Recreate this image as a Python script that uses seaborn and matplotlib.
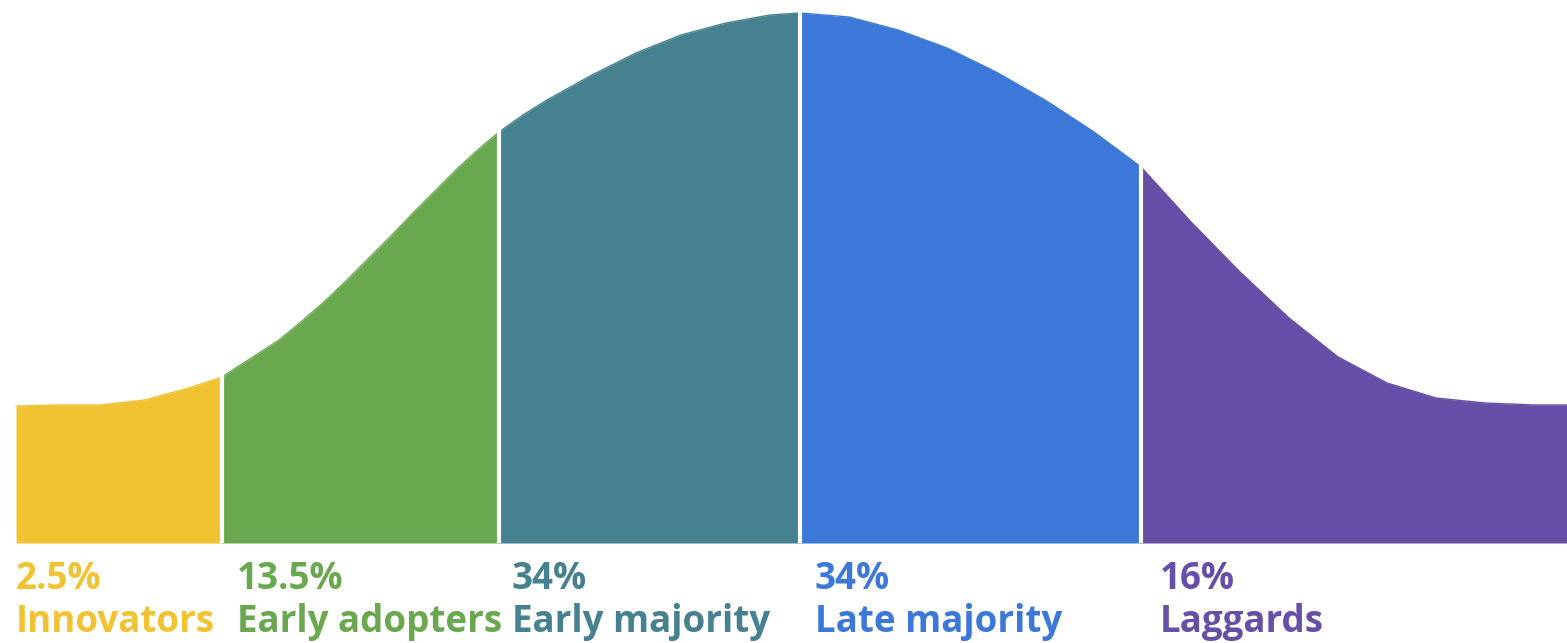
import numpy as np
import pandas as pd
import matplotlib
matplotlib.use("Agg")
import matplotlib.pyplot as plt
import seaborn as sns

# ---- data ----
categories = ["Innovators", "Early adopters", "Early majority", "Late majority", "Laggards"]
shares = ["2.5%", "13.5%", "34%", "34%", "16%"]
colors = ["#F1C232", "#6AA84F", "#45818E", "#3C78D8", "#674EA7"]
# segment boundaries along the horizontal axis
boundaries = [16, 222, 499, 800, 1141, 1567]
# curve height at positions along the axis
curve_x = [16, 60, 100, 145, 189, 222, 256, 279, 301, 324, 346, 368, 391, 413,
           435, 458, 480, 499, 523, 547, 592, 636, 681, 726, 770, 800, 849,
           898, 947, 996, 1045, 1094, 1141, 1191, 1240, 1289, 1338, 1387,
           1436, 1485, 1534, 1567]
curve_y = [137, 138, 138, 143, 155, 166, 188, 203, 221, 241, 262, 284, 307, 330,
           352, 375, 395, 411, 428, 443, 468, 490, 508, 520, 528, 530, 526,
           513, 495, 471, 443, 411, 376, 321, 271, 225, 186, 160,
           145, 140, 138, 138]

sns.set_theme(style="white")
plt.rcParams['font.family'] = ['Open Sans', 'DejaVu Sans']

fig = plt.figure(figsize=(15.67, 6.43), dpi=100)
ax = fig.add_axes([0, 0, 1, 1])

df = pd.DataFrame({"x": curve_x, "y": curve_y})
label_offsets = [0, 15, 13, 15, 19]

for i, cat in enumerate(categories):
    b0, b1 = boundaries[i], boundaries[i + 1]
    seg = df[(df.x >= b0) & (df.x <= b1)]
    ax.fill_between(seg.x, 0, seg.y, color=colors[i], linewidth=0)
    sns.lineplot(data=seg, x="x", y="y", ax=ax, color=colors[i], linewidth=1.0)
    lx = b0 + label_offsets[i]
    ax.text(lx, -46, shares[i], color=colors[i], fontsize=26.5, fontweight="bold",
            ha="left", va="baseline")
    ax.text(lx, -89, cat, color=colors[i], fontsize=26.5, fontweight="bold",
            ha="left", va="baseline")

# white separators between segments
for b in boundaries[1:-1]:
    h = df.loc[df.x == b, "y"].values[0]
    ax.vlines(b, 0, h + 3, color="white", linewidth=3)

ax.set_xlim(0, 1567)
ax.set_ylim(-100, 543)
ax.axis("off")
fig.savefig("out.png", dpi=100)
